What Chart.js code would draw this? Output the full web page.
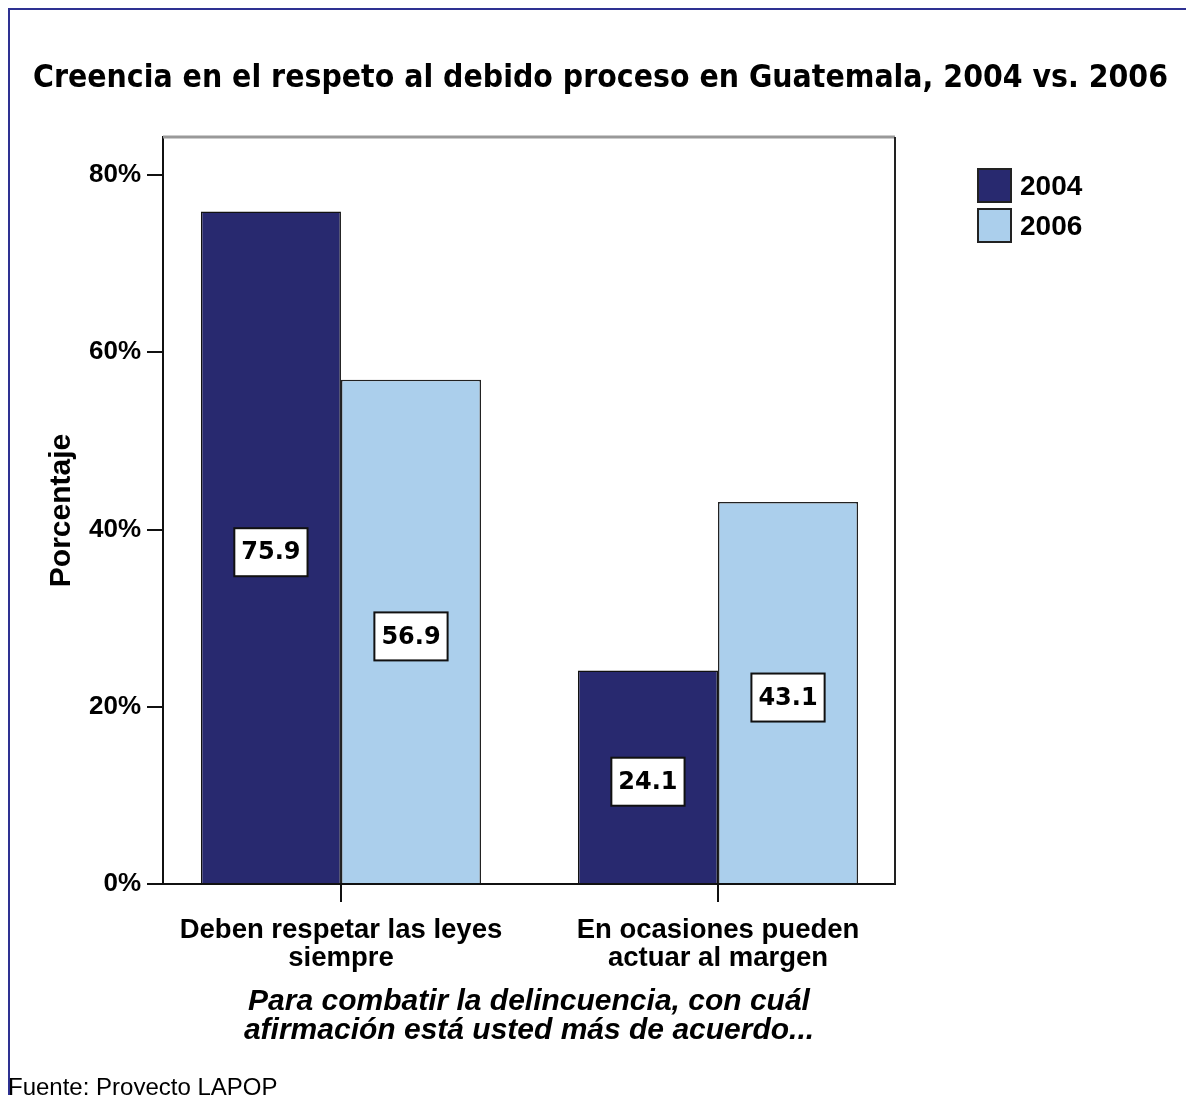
<!DOCTYPE html>
<html>
<head>
<meta charset="utf-8">
<script src="https://cdn.jsdelivr.net/npm/chart.js@4.4.1/dist/chart.umd.min.js"></script>
<style>
  html, body { margin: 0; padding: 0; background: #fff; }
  canvas { display: block; }
</style>
</head>
<body>
<canvas id="myChart" width="1186" height="1095"></canvas>
<script>
// datos del grafico
var titulo = 'Creencia en el respeto al debido proceso en Guatemala, 2004 vs. 2006';
var categorias = [['Deben respetar las leyes', 'siempre'], ['En ocasiones pueden', 'actuar al margen']];
var anios = ['2004', '2006'];
var valores2004 = [75.9, 24.1];
var valores2006 = [56.9, 43.1];
var ticksY = [0, 20, 40, 60, 80];
var tituloX = ['Para combatir la delincuencia, con cuál', 'afirmación está usted más de acuerdo...'];
var tituloY = 'Porcentaje';
var fuente = 'Fuente: Proyecto LAPOP';
var colores = ['#28296f', '#abcfec'];

function puntos(vals) {
    return vals.map(function (v, i) { return {x: i, y: v}; });
}

var marco = {
    id: 'marco',
    beforeDraw: function (chart) {
        var ctx = chart.ctx;
        ctx.save();
        ctx.fillStyle = '#ffffff';
        ctx.fillRect(0, 0, chart.width, chart.height);

        // borde azul
        ctx.strokeStyle = '#2e3192';
        ctx.lineWidth = 2;
        ctx.beginPath();
        ctx.moveTo(9, chart.height);
        ctx.lineTo(9, 9);
        ctx.lineTo(chart.width, 9);
        ctx.stroke();

        // titulo
        ctx.fillStyle = '#000';
        ctx.font = 'bold 32px "DejaVu Sans"';
        ctx.textBaseline = 'alphabetic';
        var w = ctx.measureText(titulo).width;
        ctx.translate(33, 87);
        ctx.scale(1135 / w, 1);
        ctx.fillText(titulo, 0, 0);
        ctx.restore();

        // leyenda
        ctx.save();
        ctx.font = 'bold 28px "Liberation Sans"';
        ctx.textBaseline = 'middle';
        chart.data.datasets.forEach(function (ds, i) {
            var y = 169 + i * 40;
            ctx.fillStyle = ds.backgroundColor;
            ctx.fillRect(978, y, 33, 33);
            ctx.strokeStyle = '#222';
            ctx.lineWidth = 2;
            ctx.strokeRect(978, y, 33, 33);
            ctx.fillStyle = '#000';
            ctx.fillText(ds.label, 1020, y + 18);
        });

        // fuente
        ctx.font = '24px "Liberation Sans"';
        ctx.textBaseline = 'alphabetic';
        ctx.fillText(fuente, 8, 1095);
        ctx.restore();
    },
    afterDatasetsDraw: function (chart) {
        var ctx = chart.ctx;
        var ca = chart.chartArea;
        ctx.save();
        ctx.strokeStyle = '#999';
        ctx.lineWidth = 3;
        ctx.beginPath();
        ctx.moveTo(ca.left, ca.top);
        ctx.lineTo(ca.right, ca.top);
        ctx.stroke();
        ctx.strokeStyle = '#222';
        ctx.lineWidth = 2;
        ctx.beginPath();
        ctx.moveTo(ca.right, ca.top);
        ctx.lineTo(ca.right, ca.bottom);
        ctx.stroke();

        // etiquetas de valor
        ctx.font = 'bold 24px "DejaVu Sans"';
        ctx.textAlign = 'center';
        ctx.textBaseline = 'middle';
        chart.data.datasets.forEach(function (ds, i) {
            chart.getDatasetMeta(i).data.forEach(function (bar, j) {
                var txt = ds.data[j].y.toFixed(1);
                var cy = (bar.y + bar.base) / 2 + 5;
                var w = ctx.measureText(txt).width + 14;
                var h = 48;
                ctx.fillStyle = '#fff';
                ctx.fillRect(bar.x - w / 2, cy - h / 2, w, h);
                ctx.strokeStyle = '#111';
                ctx.lineWidth = 2;
                ctx.strokeRect(bar.x - w / 2, cy - h / 2, w, h);
                ctx.fillStyle = '#000';
                ctx.fillText(txt, bar.x, cy + 1);
            });
        });
        ctx.restore();
    }
};

var ctx = document.getElementById('myChart').getContext('2d');
var chart = new Chart(ctx, {
    type: 'bar',
    data: {
        datasets: [{
            label: anios[0],
            data: puntos(valores2004),
            backgroundColor: colores[0],
            borderColor: '#111',
            borderWidth: 1.5
        }, {
            label: anios[1],
            data: puntos(valores2006),
            backgroundColor: colores[1],
            borderColor: '#222',
            borderWidth: 1.5
        }]
    },
    options: {
        responsive: false,
        animation: false,
        layout: { padding: { left: 44, right: 291, top: 137, bottom: 50 } },
        datasets: { bar: { categoryPercentage: 0.743, barPercentage: 1 } },
        plugins: {
            legend: { display: false },
            tooltip: { enabled: false }
        },
        scales: {
            x: {
                type: 'linear',
                offset: false,
                min: -0.472,
                max: 1.4695,
                afterBuildTicks: function (s) {
                    s.ticks = categorias.map(function (c, i) { return {value: i}; });
                },
                afterFit: function (s) { s.height = 161; },
                ticks: {
                    callback: function (v) { return categorias[v]; },
                    color: '#000',
                    font: { family: 'Liberation Sans', size: 27.5, weight: 'bold', lineHeight: 1.02 },
                    padding: 14,
                    maxRotation: 0,
                    autoSkip: false
                },
                grid: { offset: false, drawOnChartArea: false, tickLength: 18, color: '#111', lineWidth: 2 },
                border: { display: true, color: '#111', width: 2 },
                title: {
                    display: true,
                    text: tituloX,
                    color: '#000',
                    font: { family: 'Liberation Sans', size: 30, weight: 'bold', style: 'italic', lineHeight: 0.967 },
                    padding: 0
                }
            },
            y: {
                min: 0,
                max: 84.3,
                afterBuildTicks: function (s) {
                    s.ticks = ticksY.map(function (v) { return {value: v}; });
                },
                afterFit: function (s) { s.width = 119; },
                ticks: {
                    callback: function (v) { return v + '%'; },
                    color: '#000',
                    font: { family: 'Liberation Sans', size: 26, weight: 'bold' },
                    padding: 6
                },
                grid: { drawOnChartArea: false, tickLength: 16, color: '#111', lineWidth: 2 },
                border: { display: true, color: '#111', width: 2 },
                title: {
                    display: true,
                    text: tituloY,
                    color: '#000',
                    font: { family: 'Liberation Sans', size: 30, weight: 'bold', lineHeight: 1.2 },
                    padding: 0
                }
            }
        }
    },
    plugins: [marco]
});
</script>
</body>
</html>
